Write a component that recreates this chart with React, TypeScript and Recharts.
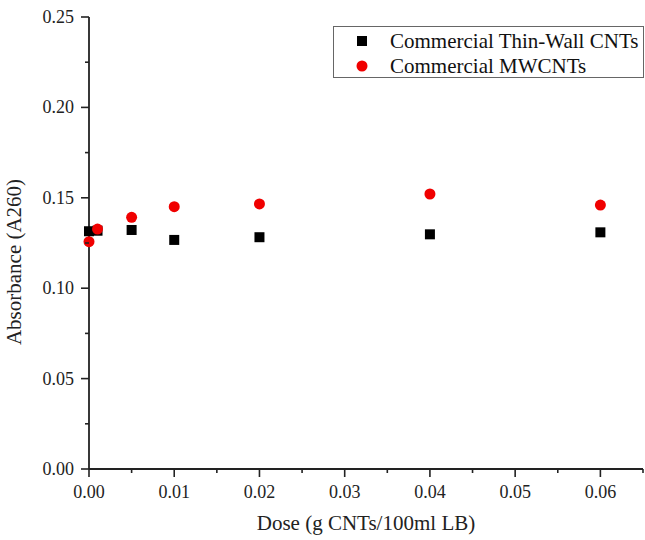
import React from "react";
import { ScatterChart, Scatter, XAxis, YAxis } from "recharts";

// Dose in g CNTs per 100 ml LB
const doses = [0, 0.001, 0.005, 0.01, 0.02, 0.04, 0.06];
const thinWallAbs = [0.1315, 0.1318, 0.1322, 0.1267, 0.1282, 0.1298, 0.1309];
const mwcntAbs = [0.1257, 0.1327, 0.1392, 0.1451, 0.1466, 0.1521, 0.146];
const seriesNames = ["Commercial Thin-Wall CNTs", "Commercial MWCNTs"];

const xTicks = [0, 0.005, 0.01, 0.015, 0.02, 0.025, 0.03, 0.035, 0.04, 0.045, 0.05, 0.055, 0.06, 0.065];
const yTicks = [0, 0.025, 0.05, 0.075, 0.1, 0.125, 0.15, 0.175, 0.2, 0.225, 0.25];

const thinWall = doses.map((d, i) => ({ dose: d, abs: thinWallAbs[i] }));
const mwcnt = doses.map((d, i) => ({ dose: d, abs: mwcntAbs[i] }));

const FONT = '"Liberation Serif", "Times New Roman", serif';
const AXIS = "#222";
const RED = "#f00000";

const SquareDot = (props: any) => {
  const { cx, cy } = props;
  return <rect x={cx - 5} y={cy - 5} width={10} height={10} fill="#000" />;
};

const RoundDot = (props: any) => {
  const { cx, cy } = props;
  return <circle cx={cx} cy={cy} r={5.5} fill={RED} />;
};

// major ticks get a label and a longer line; the half steps are minor
const XTick = (props: any) => {
  const { x, y, payload } = props;
  const major = Math.round(payload.value * 1000) % 10 === 0;
  return (
    <g>
      <line x1={x} y1={y} x2={x} y2={y + (major ? 8 : 4)} stroke={AXIS} strokeWidth={1.6} />
      {major && (
        <text x={x} y={y + 29} textAnchor="middle" fontSize={18} fontFamily={FONT} fill="#222">
          {payload.value.toFixed(2)}
        </text>
      )}
    </g>
  );
};

const YTick = (props: any) => {
  const { x, y, payload } = props;
  const major = Math.round(payload.value * 1000) % 50 === 0;
  return (
    <g>
      <line x1={x - (major ? 8 : 4)} y1={y} x2={x} y2={y} stroke={AXIS} strokeWidth={1.6} />
      {major && (
        <text x={x - 15} y={y + 6} textAnchor="end" fontSize={18} fontFamily={FONT} fill="#222">
          {payload.value.toFixed(2)}
        </text>
      )}
    </g>
  );
};

// boxed legend in the top right corner
const LegendBox = () => (
  <svg
    width={312}
    height={53}
    style={{ position: "absolute", left: 333, top: 26, display: "block" }}
  >
    <rect x={0.5} y={0.5} width={310} height={51} fill="#fff" stroke="#666" strokeWidth={1} />
    {seriesNames.map((name, i) => {
      const cy = 15 + i * 25;
      return (
        <g key={name}>
          {i === 0 ? (
            <rect x={24} y={cy - 5} width={10} height={10} fill="#000" />
          ) : (
            <circle cx={29} cy={cy} r={5.5} fill={RED} />
          )}
          <text x={57} y={cy + 7} fontSize={21} fontFamily={FONT} fill="#111">
            {name}
          </text>
        </g>
      );
    })}
  </svg>
);

export default function App() {
  return (
    <div style={{ position: "absolute", left: 0, top: 0, width: 645, height: 540, background: "#fff" }}>
      <ScatterChart width={645} height={540} margin={{ top: 17, right: 2, bottom: 0, left: 0 }}>
        <XAxis
          type="number"
          dataKey="dose"
          domain={[0, 0.065]}
          ticks={xTicks}
          interval={0}
          height={71}
          tickSize={0}
          tickMargin={0}
          tickLine={false}
          tick={<XTick />}
          axisLine={{ stroke: AXIS, strokeWidth: 1.8 }}
          label={{
            value: "Dose (g CNTs/100ml LB)",
            position: "insideBottom",
            offset: 10,
            style: { fontSize: 21, fontFamily: FONT, fill: "#222" },
          }}
        />
        <YAxis
          type="number"
          dataKey="abs"
          domain={[0, 0.25]}
          ticks={yTicks}
          interval={0}
          width={89}
          tickSize={0}
          tickMargin={0}
          tickLine={false}
          tick={<YTick />}
          axisLine={{ stroke: AXIS, strokeWidth: 1.8 }}
          label={{
            value: "Absorbance (A260)",
            angle: -90,
            position: "insideLeft",
            offset: 14,
            dy: 19,
            style: { fontSize: 21, fontFamily: FONT, fill: "#222", textAnchor: "middle" },
          }}
        />
        <Scatter
          name={seriesNames[0]}
          data={thinWall}
          fill="#000"
          shape={<SquareDot />}
          isAnimationActive={false}
        />
        <Scatter
          name={seriesNames[1]}
          data={mwcnt}
          fill={RED}
          shape={<RoundDot />}
          isAnimationActive={false}
        />
      </ScatterChart>
      <LegendBox />
    </div>
  );
}
